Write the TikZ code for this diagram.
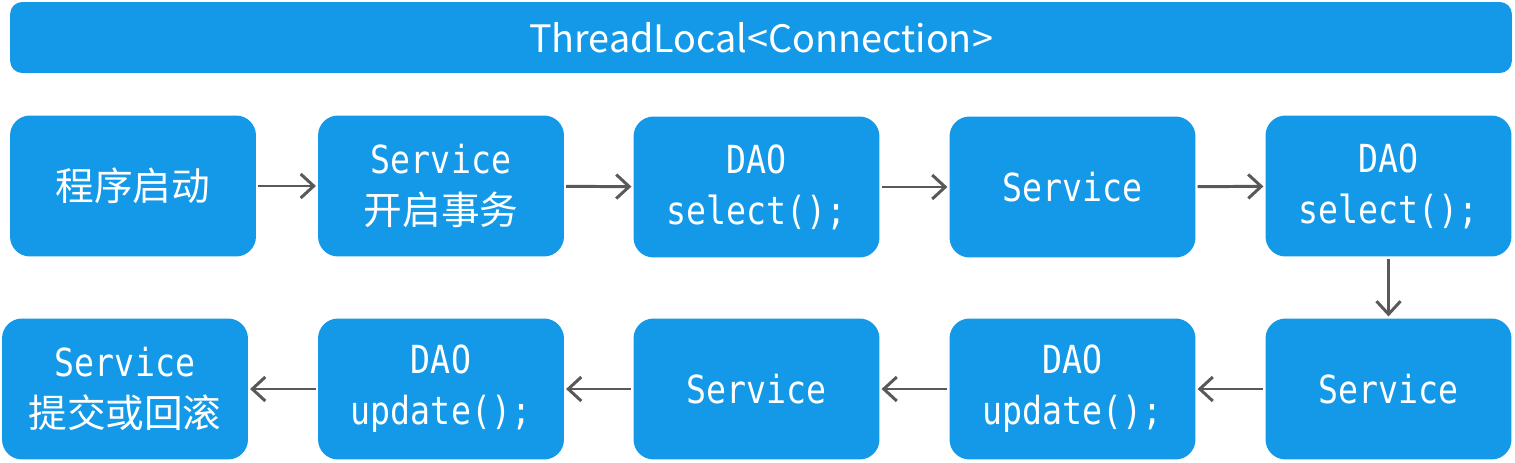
\documentclass[tikz,border=0pt]{standalone}
\usepackage{fontspec}
\setmainfont{Noto Sans CJK SC}
\newfontfamily\codefont[FakeStretch=0.86]{DejaVu Sans Mono}
\usetikzlibrary{arrows.meta}
\definecolor{boxblue}{RGB}{20,153,233}
\definecolor{arrowgray}{RGB}{89,89,89}

\begin{document}
\begin{tikzpicture}[x=0.02cm,y=-0.02cm,
    flowbox/.style={fill=boxblue,text=white,rounded corners=0.4cm,
      minimum width=4.92cm,minimum height=2.82cm,align=center,
      font=\fontsize{22}{29}\selectfont},
    titlebar/.style={fill=boxblue,text=white,rounded corners=0.24cm,
      minimum width=30.04cm,minimum height=1.42cm,
      font=\fontsize{21.5}{25}\selectfont},
    flow/.style={draw=arrowgray,line width=1.7pt,
      -{Straight Barb[length=2.6mm,width=4.8mm,line width=1.7pt]},
      shorten <=1pt,shorten >=1pt}]
    \useasboundingbox (0,0) rectangle (1515,463);
    \node[titlebar] (tl) at (761,37.5) {ThreadLocal<Connection>};
    % first row
    \node[flowbox] (start) at (133,186) {程序启动};
    \node[flowbox] (srvA) at (441,186) {{\codefont Service}\\开启事务};
    \node[flowbox] (daoA) at (756.5,187) {{\codefont DAO}\\{\codefont select();}};
    \node[flowbox] (srvB) at (1072.5,187) {\codefont Service};
    \node[flowbox] (daoB) at (1388.5,186) {{\codefont DAO}\\{\codefont select();}};
    % second row
    \node[flowbox] (srvC) at (1388.5,389) {\codefont Service};
    \node[flowbox] (daoC) at (1072.5,389) {{\codefont DAO}\\{\codefont update();}};
    \node[flowbox] (srvD) at (756.5,389) {\codefont Service};
    \node[flowbox] (daoD) at (441,389) {{\codefont DAO}\\{\codefont update();}};
    \node[flowbox] (done) at (125,389) {{\codefont Service}\\提交或回滚};
    \draw[flow] (start) -- (srvA);
    \draw[flow] (srvA) -- (daoA);
    \draw[flow] (daoA) -- (srvB);
    \draw[flow] (srvB) -- (daoB);
    \draw[flow] (daoB) -- (srvC);
    \draw[flow] (srvC) -- (daoC);
    \draw[flow] (daoC) -- (srvD);
    \draw[flow] (srvD) -- (daoD);
    \draw[flow] (daoD) -- (done);
\end{tikzpicture}
\end{document}
